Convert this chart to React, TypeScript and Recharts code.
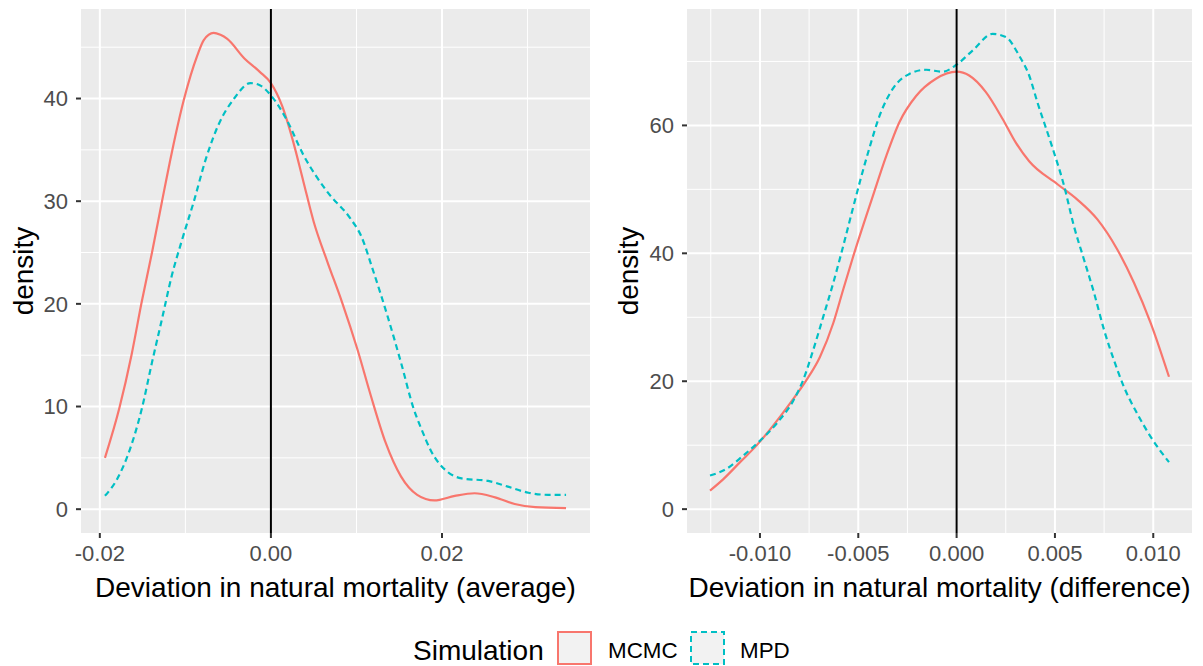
import React from "react";
import { LineChart, Line, XAxis, YAxis, CartesianGrid, ReferenceLine } from "recharts";

// ---- Left panel: Deviation in natural mortality (average) ----
const avgMcmcX = [-0.0194, -0.0177, -0.0163, -0.0151, -0.0139, -0.01275, -0.01157, -0.0102, -0.0086, -0.00785, -0.0067, -0.0059, -0.0051, -0.0031, -0.0013, 0.0, 0.0013, 0.0026, 0.0038, 0.005, 0.0066, 0.0083, 0.0101, 0.0117, 0.0134, 0.0152, 0.0171, 0.0191, 0.0215, 0.0238, 0.0262, 0.0285, 0.0309, 0.0345];
const avgMcmcY = [5.0, 9.9, 15.0, 20.2, 25.0, 29.9, 34.8, 39.8, 44.2, 45.7, 46.4, 46.2, 45.8, 43.9, 42.6, 41.5, 39.3, 35.8, 31.9, 28.0, 24.1, 20.2, 15.6, 11.0, 6.5, 3.2, 1.4, 0.85, 1.3, 1.55, 1.15, 0.5, 0.2, 0.1];

const avgMpdX = [-0.0194, -0.018, -0.01647, -0.0151, -0.0139, -0.01274, -0.01157, -0.0104, -0.009, -0.00765, -0.0061, -0.0043, -0.0024, -0.0013, 0.0, 0.0018, 0.0038, 0.0066, 0.0093, 0.0105, 0.012, 0.0136, 0.0152, 0.0167, 0.0176, 0.0187, 0.0207, 0.0223, 0.0254, 0.0277, 0.0301, 0.0324, 0.0345];
const avgMpdY = [1.3, 2.9, 5.85, 9.75, 14.3, 18.5, 22.8, 26.2, 30.0, 34.0, 37.5, 40.0, 41.5, 41.3, 40.3, 38.0, 34.5, 30.9, 28.3, 26.7, 23.1, 18.9, 14.3, 9.75, 7.8, 5.7, 3.6, 3.0, 2.75, 2.2, 1.6, 1.4, 1.4];

const avgXTicks = [-0.02, 0, 0.02];
const avgXMinor = [-0.01, 0.01, 0.03];
const avgYTicks = [0, 10, 20, 30, 40];
const avgYMinor = [5, 15, 25, 35, 45];

// ---- Right panel: Deviation in natural mortality (difference) ----
const diffMcmcX = [-0.01254, -0.01186, -0.01101, -0.01017, -0.00932, -0.00848, -0.00763, -0.00695, -0.00627, -0.00577, -0.00526, -0.00426, -0.00358, -0.00291, -0.00206, -0.00105, 0.0, 0.00064, 0.00149, 0.00234, 0.00301, 0.00369, 0.00513, 0.00614, 0.00716, 0.00817, 0.00902, 0.00987, 0.0108];
const diffMcmcY = [2.9, 4.7, 7.35, 9.97, 13.1, 16.5, 20.2, 23.8, 29.1, 34.3, 39.5, 48.95, 55.2, 60.5, 64.6, 67.3, 68.4, 67.8, 65.2, 61.0, 57.3, 54.4, 50.8, 48.4, 45.3, 40.6, 35.4, 29.1, 20.7];

const diffMpdX = [-0.01254, -0.0117, -0.01084, -0.01017, -0.00915, -0.0083, -0.0078, -0.00729, -0.00678, -0.00627, -0.00577, -0.00526, -0.0049, -0.00443, -0.00392, -0.00325, -0.0024, -0.00155, -0.00071, 0.0, 0.00081, 0.00183, 0.00251, 0.00318, 0.00369, 0.00411, 0.00479, 0.00547, 0.00597, 0.00648, 0.00699, 0.0075, 0.008, 0.00851, 0.00919, 0.00987, 0.0108];
const diffMpdY = [5.25, 6.3, 8.4, 10.2, 13.4, 17.0, 20.2, 24.9, 30.1, 35.4, 41.1, 47.2, 51.4, 56.5, 61.5, 65.7, 68.05, 68.7, 68.4, 69.5, 71.7, 74.3, 73.8, 70.9, 67.8, 63.6, 57.3, 50.5, 44.2, 39.0, 33.8, 28.0, 23.3, 19.1, 14.9, 11.3, 7.35];

const diffXTicks = [-0.01, -0.005, 0, 0.005, 0.01];
const diffXMinor = [-0.0125, -0.0075, -0.0025, 0.0025, 0.0075];
const diffYTicks = [0, 20, 40, 60];
const diffYMinor = [10, 30, 50, 70];

const seriesNames = ["MCMC", "MPD"];
const seriesColors = ["#F8766D", "#00BFC4"];

const FONT = "'Liberation Sans', Arial, sans-serif";
const toPts = (xs: number[], ys: number[]) => xs.map((x, i) => ({ x, y: ys[i] }));

type PanelProps = {
  left: number;
  width: number;
  marginRight: number;
  yWidth: number;
  xDomain: [number, number];
  yDomain: [number, number];
  xTicks: number[];
  xMinor: number[];
  yTicks: number[];
  yMinor: number[];
  digits: number;
  mcmc: { x: number; y: number }[];
  mpd: { x: number; y: number }[];
};

function Panel(p: PanelProps) {
  const tickStyle = { fill: "#4D4D4D", fontSize: 22, fontFamily: FONT };
  return (
    <div style={{ position: "absolute", left: p.left, top: 0 }}>
      <LineChart width={p.width} height={620} margin={{ top: 9, right: p.marginRight, bottom: 0, left: 0 }}>
        <CartesianGrid
          fill="#EBEBEB"
          stroke="#FFFFFF"
          strokeWidth={1}
          horizontalValues={p.yMinor}
          verticalValues={p.xMinor}
        />
        <CartesianGrid
          stroke="#FFFFFF"
          strokeWidth={2}
          horizontalValues={p.yTicks}
          verticalValues={p.xTicks}
        />
        <XAxis
          type="number"
          dataKey="x"
          domain={p.xDomain}
          ticks={p.xTicks}
          allowDataOverflow
          height={87}
          axisLine={false}
          tickSize={5}
          tickMargin={7}
          tickLine={{ stroke: "#333333", strokeWidth: 2 }}
          tick={tickStyle}
          tickFormatter={(v: number) => v.toFixed(p.digits)}
          interval={0}
        />
        <YAxis
          type="number"
          domain={p.yDomain}
          ticks={p.yTicks}
          allowDataOverflow
          width={p.yWidth}
          axisLine={false}
          tickSize={5}
          tickMargin={8}
          tickLine={{ stroke: "#333333", strokeWidth: 2 }}
          tick={tickStyle}
          interval={0}
        />
        <Line
          data={p.mcmc}
          dataKey="y"
          type="monotone"
          stroke={seriesColors[0]}
          strokeWidth={2.2}
          dot={false}
          activeDot={false}
          isAnimationActive={false}
          name={seriesNames[0]}
        />
        <Line
          data={p.mpd}
          dataKey="y"
          type="monotone"
          stroke={seriesColors[1]}
          strokeWidth={2.2}
          strokeDasharray="6 4"
          dot={false}
          activeDot={false}
          isAnimationActive={false}
          name={seriesNames[1]}
        />
        <ReferenceLine x={0} stroke="#000000" strokeWidth={2} />
      </LineChart>
    </div>
  );
}

export default function App() {
  return (
    <div style={{ position: "absolute", left: 0, top: 0, width: 1203, height: 666, background: "#FFFFFF", overflow: "hidden" }}>
      <Panel
        left={0}
        width={600}
        marginRight={10}
        yWidth={81}
        xDomain={[-0.0222, 0.0373]}
        yDomain={[-2.32, 48.72]}
        xTicks={avgXTicks}
        xMinor={avgXMinor}
        yTicks={avgYTicks}
        yMinor={avgYMinor}
        digits={2}
        mcmc={toPts(avgMcmcX, avgMcmcY)}
        mpd={toPts(avgMpdX, avgMpdY)}
      />
      <Panel
        left={600}
        width={603}
        marginRight={11}
        yWidth={87}
        xDomain={[-0.01371, 0.01197]}
        yDomain={[-3.73, 78.2]}
        xTicks={diffXTicks}
        xMinor={diffXMinor}
        yTicks={diffYTicks}
        yMinor={diffYMinor}
        digits={3}
        mcmc={toPts(diffMcmcX, diffMcmcY)}
        mpd={toPts(diffMpdX, diffMpdY)}
      />
      <svg width={1203} height={666} style={{ position: "absolute", left: 0, top: 0, pointerEvents: "none" }} fontFamily={FONT}>
        <text x={335.5} y={597} textAnchor="middle" fontSize={28} fill="#000000">
          Deviation in natural mortality (average)
        </text>
        <text x={939.5} y={597} textAnchor="middle" fontSize={28} fill="#000000">
          Deviation in natural mortality (difference)
        </text>
        <text x={33} y={271} textAnchor="middle" fontSize={28} fill="#000000" transform="rotate(-90 33 271)">
          density
        </text>
        <text x={638} y={271} textAnchor="middle" fontSize={28} fill="#000000" transform="rotate(-90 638 271)">
          density
        </text>
        <text x={413} y={660} fontSize={28} fill="#000000">Simulation</text>
        <rect x={558} y={632} width={33} height={32} fill="#F2F2F2" stroke={seriesColors[0]} strokeWidth={2} />
        <text x={608} y={658} fontSize={22.4} fill="#000000">{seriesNames[0]}</text>
        <rect x={691} y={632} width={33} height={32} fill="#F2F2F2" stroke={seriesColors[1]} strokeWidth={2} strokeDasharray="6 4" />
        <text x={740} y={658} fontSize={22.4} fill="#000000">{seriesNames[1]}</text>
      </svg>
    </div>
  );
}
